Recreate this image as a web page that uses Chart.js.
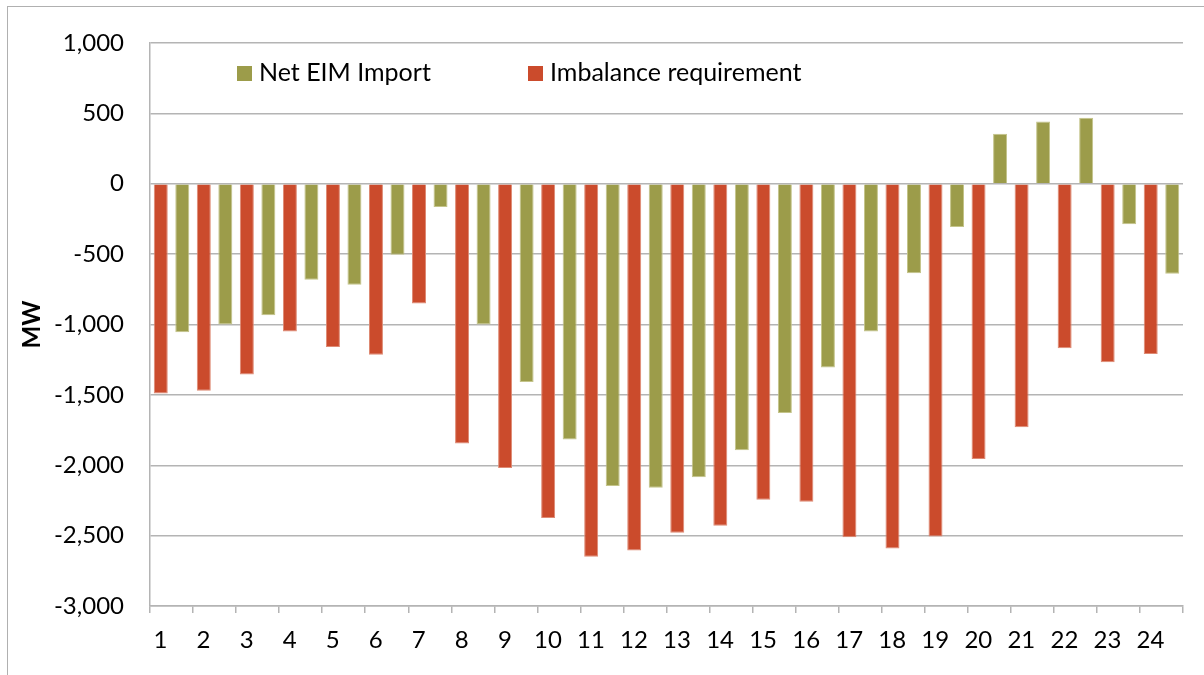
<html>
<head>
<title>Net EIM Import vs Imbalance requirement</title>
<script src="https://cdn.jsdelivr.net/npm/chart.js"></script>
<style>
  body { margin: 0; background: #fff; font-family: Lato, sans-serif; }
  #wrap { position: relative; width: 1204px; height: 675px; overflow: hidden; }
  #frame { position: absolute; left: 7px; top: 6px; width: 1300px; height: 800px;
           border-left: 1.5px solid #b0b0b0; border-top: 1.5px solid #b0b0b0; }
  canvas { position: absolute; left: 0; top: 0; }
  .legend { position: absolute; top: 56px; font-size: 25px; color: #000; line-height: 30px; white-space: nowrap; }
  .legend span { display: inline-block; width: 15px; height: 15px; margin-right: 7px; vertical-align: 0px; }
</style>
</head>
<body>
<div id="wrap">
  <div id="frame"></div>
  <canvas id="myChart" width="1204" height="675"></canvas>
  <div class="legend" style="left:237px"><span style="background:#9c9c4a"></span>Net EIM Import</div>
  <div class="legend" style="left:528px"><span style="background:#cb4b2c"></span>Imbalance requirement</div>
</div>

<script>
  // hours on the x axis
  const hours = ['1','2','3','4','5','6','7','8','9','10','11','12','13','14','15','16','17','18','19','20','21','22','23','24'];

  // MW
  const imbalanceRequirement = [-1490, -1470, -1355, -1050, -1160, -1215, -850, -1845, -2020, -2375, -2650, -2605,
                                -2480, -2430, -2245, -2260, -2512, -2592, -2507, -1955, -1730, -1168, -1268, -1210];
  const netEimImport = [-1055, -1000, -935, -682, -717, -505, -166, -1000, -1408, -1817, -2147, -2159,
                        -2085, -1893, -1629, -1305, -1050, -635, -308, 356, 443, 469, -287, -640];

  const yMin = -3000;
  const yMax = 1000;
  const yStep = 500;

  const gray = '#b4b4b4';

  const config = {
    type: 'bar',
    data: {
      labels: hours,
      datasets: [
        {
          label: 'Imbalance requirement',
          data: imbalanceRequirement,
          backgroundColor: '#cb4b2c',
          borderColor: '#de8a74',
          borderWidth: 1,
          categoryPercentage: 1,
          barPercentage: 0.65
        },
        {
          label: 'Net EIM Import',
          data: netEimImport,
          backgroundColor: '#9c9c4a',
          borderColor: '#c4c48a',
          borderWidth: 1,
          categoryPercentage: 1,
          barPercentage: 0.65
        }
      ]
    },
    options: {
      responsive: false,
      devicePixelRatio: 1,
      animation: false,
      layout: { padding: { left: 0, top: 43, right: 21, bottom: 0 } },
      plugins: {
        legend: { display: false },
        tooltip: { enabled: false }
      },
      scales: {
        x: {
          afterFit: s => { s.height = 69; },
          grid: {
            offset: true,
            color: ctx => ctx.index === hours.length ? gray : 'rgba(0,0,0,0)',
            tickColor: gray,
            lineWidth: 1.5,
            tickLength: 7
          },
          border: { color: gray, width: 1.5 },
          ticks: {
            color: '#000',
            font: { family: 'Lato', size: 24 },
            padding: 13,
            labelOffset: -11,
            maxRotation: 0,
            autoSkip: false
          }
        },
        y: {
          min: yMin,
          max: yMax,
          afterFit: s => { s.width = 150; },
          grid: { color: gray, lineWidth: 1.5, drawTicks: false },
          border: { color: gray, width: 1.5 },
          ticks: {
            stepSize: yStep,
            color: '#000',
            font: { family: 'Lato', size: 24 },
            padding: 26,
            callback: v => v.toLocaleString('en-US')
          },
          title: {
            display: true,
            text: 'MW',
            color: '#000',
            font: { family: 'Lato', size: 24, weight: 'bold' },
            padding: { top: 18, bottom: 0 }
          }
        }
      }
    }
  };

  const myChart = new Chart(document.getElementById('myChart'), config);
</script>
</body>
</html>
